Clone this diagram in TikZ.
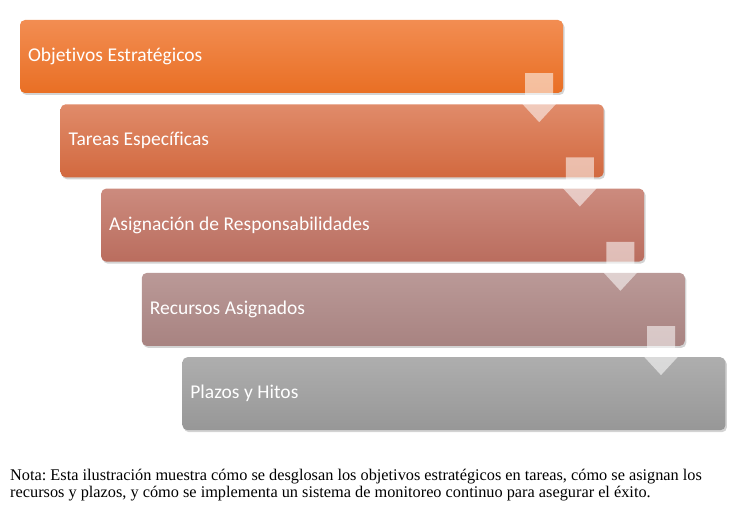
\documentclass[tikz,border=0pt]{standalone}
\usepackage{fontspec}
\setmainfont{Liberation Serif}
\newfontfamily\boxfont[Ligatures=NoCommon]{Carlito}
\usetikzlibrary{shadows}
\frenchspacing

\definecolor{oneTop}{HTML}{F28D52}
\definecolor{oneBot}{HTML}{E96F24}
\definecolor{twoTop}{HTML}{E08B6A}
\definecolor{twoBot}{HTML}{D2693F}
\definecolor{threeTop}{HTML}{CC8B7E}
\definecolor{threeBot}{HTML}{BA6D5E}
\definecolor{fourTop}{HTML}{BA9997}
\definecolor{fourBot}{HTML}{A88381}
\definecolor{fiveTop}{HTML}{AEAEAE}
\definecolor{fiveBot}{HTML}{979797}

\begin{document}
\begin{tikzpicture}[node distance=84.3pt,
  stage node/.style={rectangle,rounded corners=5pt,minimum width=543pt,minimum height=73pt,
    text width=527pt,inner sep=8pt,align=left,text=white,
    font=\boxfont\fontsize{19.5}{23}\selectfont,execute at begin node={\spaceskip=4.6pt\relax},
    drop shadow={shadow xshift=1.5pt,shadow yshift=-2pt,opacity=0.35}},
  flow arrow/.pic={\fill[white,opacity=0.55] (-14pt,0pt) -- (14pt,0pt) -- (14pt,-23pt) -- (24pt,-23pt)
    -- (0pt,-49pt) -- (-24pt,-23pt) -- (-14pt,-23pt) -- cycle;}]

  \useasboundingbox (0pt,0pt) rectangle (738pt,-513pt);

  \node[stage node,top color=oneTop,bottom color=oneBot] (1) at (291.5pt,-56.5pt) {Objetivos Estratégicos};
  \node[stage node,top color=twoTop,bottom color=twoBot] (2) [below of=1,xshift=40.6pt] {Tareas Específicas};
  \node[stage node,top color=threeTop,bottom color=threeBot] (3) [below of=2,xshift=40.6pt] {Asignación de Responsabilidades};
  \node[stage node,top color=fourTop,bottom color=fourBot] (4) [below of=3,xshift=40.6pt] {Recursos Asignados};
  \node[stage node,top color=fiveTop,bottom color=fiveBot] (5) [below of=4,xshift=40.6pt] {Plazos y Hitos};

  \pic[xshift=-24pt,yshift=20pt] at (1.south east) {flow arrow};
  \pic[xshift=-24pt,yshift=20pt] at (2.south east) {flow arrow};
  \pic[xshift=-24pt,yshift=20pt] at (3.south east) {flow arrow};
  \pic[xshift=-24pt,yshift=20pt] at (4.south east) {flow arrow};

  \node[anchor=base west,inner sep=0pt,align=left,font=\fontsize{16.3}{17}\selectfont] (nota) at (10pt,-497pt)
    {Nota: Esta ilustración muestra cómo se desglosan los objetivos estratégicos en tareas, cómo se asignan los\\
     recursos y plazos, y cómo se implementa un sistema de monitoreo continuo para asegurar el éxito.};
\end{tikzpicture}
\end{document}
